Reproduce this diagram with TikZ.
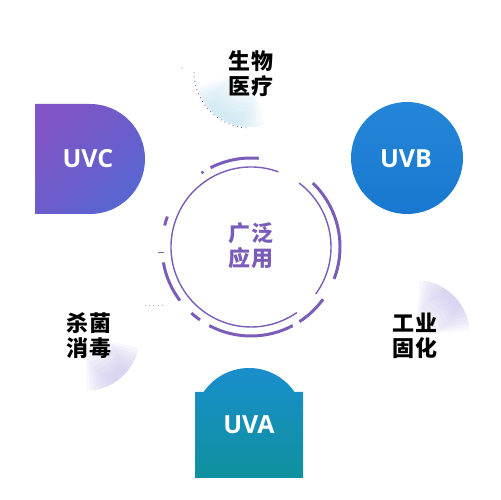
\documentclass[tikz,border=0pt]{standalone}
\usepackage{fontspec}
\setmainfont{Open Sans}
\newfontfamily\cjk[LetterSpace=4]{Noto Sans CJK SC}
\usetikzlibrary{calc}
\definecolor{uvcA}{HTML}{8054C4}
\definecolor{uvcB}{HTML}{5866D2}
\definecolor{uvbA}{HTML}{2486D8}
\definecolor{uvbB}{HTML}{1878CF}
\definecolor{uvaA}{HTML}{1A8ECC}
\definecolor{uvaB}{HTML}{0F919E}
\definecolor{ring}{HTML}{7B5CB8}
\definecolor{lav}{HTML}{C9C2EC}
\definecolor{lblue}{HTML}{BFE3F2}
\newcommand\softblob[5]{%
  % center x, center y, angle1, angle2, colour
  \foreach \da/\ri in {0/14, 4/20, 8/26, 12/31, 16/36, 20/40, 24/44, 28/48}{%
    \pgfmathsetmacro\aa{#3+\da}\pgfmathsetmacro\bb{#4-\da}%
    \fill[#5, fill opacity=0.12] (#1,#2) ++(\aa:55) arc[start angle=\aa,end angle=\bb,radius=55]
      -- ($(#1,#2)+(\bb:\ri)$) arc[start angle=\bb,end angle=\aa,radius=\ri] -- cycle;
  }%
}
\begin{document}
\begin{tikzpicture}[x=0.02cm,y=0.02cm,
  cjklab/.style={font=\cjk\bfseries\fontsize{12.5}{14.2}\selectfont, align=center, inner sep=0},
  uvlab/.style={font=\bfseries\fontsize{14.2}{16}\selectfont, text=white, inner sep=0},
  thinring/.style={draw=ring, line width=0.8pt},
  thickring/.style={draw=ring, line width=1.7pt}]
\useasboundingbox (0,0) rectangle (500,500);
\fill[white] (0,0) rectangle (500,500);

% faint decorations of the label circles
\softblob{250}{428}{195}{285}{lblue}
\softblob{415}{165}{5}{85}{lav}
\softblob{85}{164}{-88}{-12}{lav}
\draw[dotted, gray!70!blue, line width=0.5pt] (250,428) ++(180:56) arc[start angle=180,end angle=268,radius=56];
\draw[dotted, gray!60, line width=0.4pt] (145,195) -- (162,195);
\fill[gray!40] (182,432) circle (0.8);

% UVC
\shade[top color=uvcA,bottom color=uvcB,shading angle=45]
  (35,286) -- (35,396) -- (90,396) arc[start angle=90,end angle=-90,radius=55] -- cycle;
% UVB
\shade[top color=uvbA,bottom color=uvbB] (407,342) circle (56);
% UVA
\shade[top color=uvaA,bottom color=uvaB]
  (195,22) -- (195,108) -- (203.6,108) arc[start angle=145.7,end angle=34.3,radius=55]
  -- (303,108) -- (303,22) -- cycle;

\node[uvlab] (uvc) at (88,341) {UVC};
\node[uvlab] (uvb) at (406,341) {UVB};
\node[uvlab] (uva) at (249,75) {UVA};

% central ring
\draw[thinring] (251,253) ++(70:80) arc[start angle=70,end angle=305,radius=80];
\draw[thinring] (251,253) ++(-36:80) arc[start angle=-36,end angle=53,radius=80];
\foreach \a/\b in {85/117,160/166,190/217,228/235,242/298,303/324,339/406}{
  \draw[thickring] (251,253) ++(\a:89) arc[start angle=\a,end angle=\b,radius=89];
}
\fill[ring] (251,253) ++(123:89) circle (1.8);
\draw[ring, line width=0.5pt] (158,248) -- (164,248);

\node[cjklab, text=ring] (center) at (251,254.5) {广泛\\应用};
\node[cjklab] (bio) at (251,426.5) {生物\\医疗};
\node[cjklab] (ind) at (415,164.5) {工业\\固化};
\node[cjklab] (ster) at (89,164) {杀菌\\消毒};
\end{tikzpicture}
\end{document}
